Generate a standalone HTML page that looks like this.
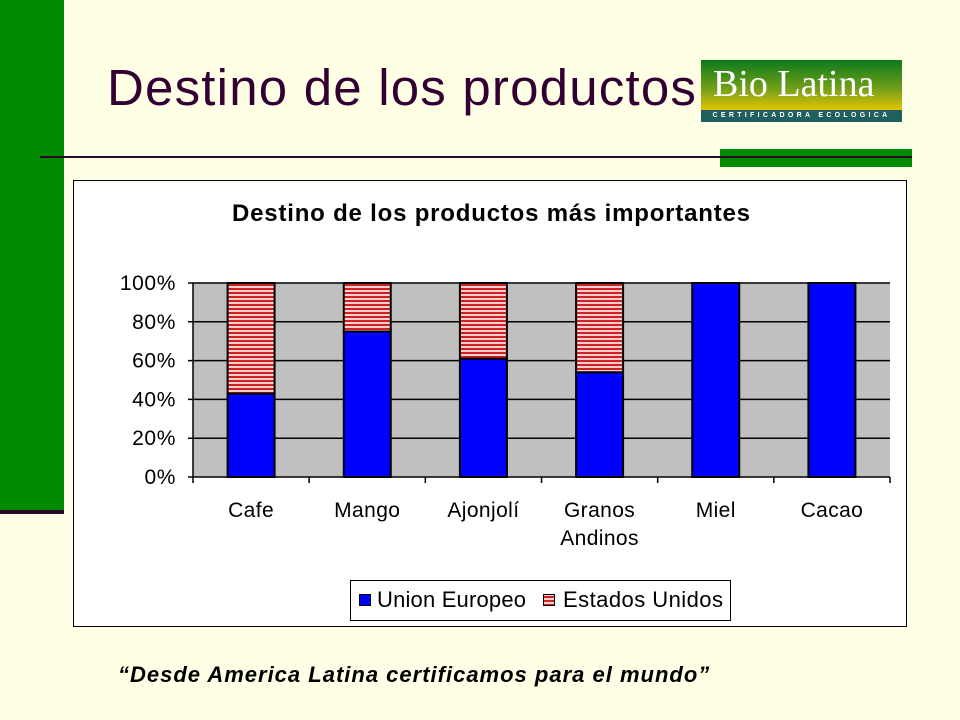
<!DOCTYPE html>
<html><head><meta charset="utf-8"><style>
body{margin:0;width:960px;height:720px;background:#ffffe6;position:relative;overflow:hidden;font-family:"Liberation Sans",sans-serif}
.a{position:absolute}
</style></head><body>
<div class="a" style="left:0;top:0;width:64px;height:510px;background:#008c00"></div>
<div class="a" style="left:0;top:510px;width:64px;height:4px;background:#2a0a2a"></div>
<div class="a" style="left:107px;top:58px;font-size:51px;letter-spacing:1.2px;color:#330033;white-space:nowrap">Destino de los productos</div>
<div class="a" style="left:701px;top:60px;width:201px;height:62px;background:linear-gradient(#0c7a1c,#6f9e1a 45%,#f0c800 85%);overflow:hidden">
<div class="a" style="left:12px;top:2px;font-size:38px;color:#fff;font-family:'Liberation Serif',serif;white-space:nowrap">Bio Latina</div>
<div class="a" style="left:0;bottom:0;width:201px;height:12px;background:#1f5f5f;color:#fff;font-size:7px;letter-spacing:3.3px;text-align:center;line-height:12px;font-weight:bold">CERTIFICADORA ECOLOGICA</div>
</div>
<div class="a" style="left:720px;top:149px;width:192px;height:18px;background:#008c00"></div>
<div class="a" style="left:40px;top:156px;width:872px;height:2px;background:#2a0a2a"></div>
<svg class="a" style="left:0;top:0" width="960" height="720" font-family="Liberation Sans">
<defs><pattern id="st" width="4" height="4" patternUnits="userSpaceOnUse"><rect width="4" height="4" fill="#f4d0d0"/><rect width="4" height="2" fill="#d02020"/></pattern></defs>
<rect x="73.5" y="180.5" width="833" height="446" fill="#fff" stroke="#000"/>
<text x="232" y="221" font-size="24" font-weight="bold" textLength="518" lengthAdjust="spacing">Destino de los productos más importantes</text>
<g id="g"></g>
<rect x="350.5" y="580.5" width="380" height="40" fill="#fff" stroke="#000"/>
<rect x="359.5" y="594.5" width="11" height="11" fill="#0000ff" stroke="#000"/>
<text x="377" y="607" font-size="22" textLength="149" lengthAdjust="spacing">Union Europeo</text>
<rect x="543.5" y="594.5" width="11" height="11" fill="url(#st)" stroke="#000"/>
<text x="563" y="607" font-size="22" textLength="160" lengthAdjust="spacing">Estados Unidos</text>
</svg>
<div class="a" style="left:118px;top:662px;font-size:22px;letter-spacing:1px;font-weight:bold;font-style:italic;color:#000;white-space:nowrap">“Desde America Latina certificamos para el mundo”</div>
<script>
const categories=[["Cafe"],["Mango"],["Ajonjolí"],["Granos","Andinos"],["Miel"],["Cacao"]];
const ueValues=[43,75,61,54,100,100];
const usValues=[57,25,39,46,0,0];
const tickLabels=["0%","20%","40%","60%","80%","100%"];
const tickValues=[0,20,40,60,80,100];
const NS="http://www.w3.org/2000/svg",g=document.getElementById('g');
const X0=193,X1=890,Y0=477,Y1=283;
const y=v=>Y0-(Y0-Y1)*v/100;
const cw=(X1-X0)/categories.length;
const x=i=>X0+cw*(i+0.5);
function mk(t,a){const e=document.createElementNS(NS,t);for(const k in a)e.setAttribute(k,a[k]);g.appendChild(e);return e;}
let e=mk('rect',{x:X0,y:Y1,width:X1-X0,height:Y0-Y1,fill:'#c0c0c0'});


tickValues.forEach((v,i)=>{
 let l=mk('line',{x1:X0-5,x2:X1,y1:y(v),y2:y(v),stroke:'#000','stroke-width':1.5});
 
 
 let t=mk('text',{x:X0-17,y:y(v)+7,'text-anchor':'end','font-size':21,'letter-spacing':0.6});
 t.textContent=tickLabels[i];
 
 
});
mk('line',{x1:X0,x2:X0,y1:Y1,y2:Y0+1,stroke:'#000','stroke-width':1.5});
for(let i=0;i<=categories.length;i++){mk('line',{x1:X0+cw*i,x2:X0+cw*i,y1:Y0,y2:Y0+6,stroke:'#000','stroke-width':1.5});}
const bw=47;
categories.forEach((c,i)=>{
 const cx=x(i);
 let b=mk('rect',{x:cx-bw/2,y:y(ueValues[i]),width:bw,height:y(0)-y(ueValues[i]),fill:'#0000ff',stroke:'#000','stroke-width':2});
 
 
 if(usValues[i]>0){
  let s=mk('rect',{x:cx-bw/2,y:y(ueValues[i]+usValues[i]),width:bw,height:y(ueValues[i])-y(ueValues[i]+usValues[i]),fill:'url(#st)',stroke:'#000','stroke-width':2});
  
  
 }
 c.forEach((ln,j)=>{
  let t=mk('text',{x:cx,y:Y0+40+j*28,'text-anchor':'middle','font-size':21,'letter-spacing':0.4});
  t.textContent=ln;
  
  
 });
});
</script>
</body></html>
